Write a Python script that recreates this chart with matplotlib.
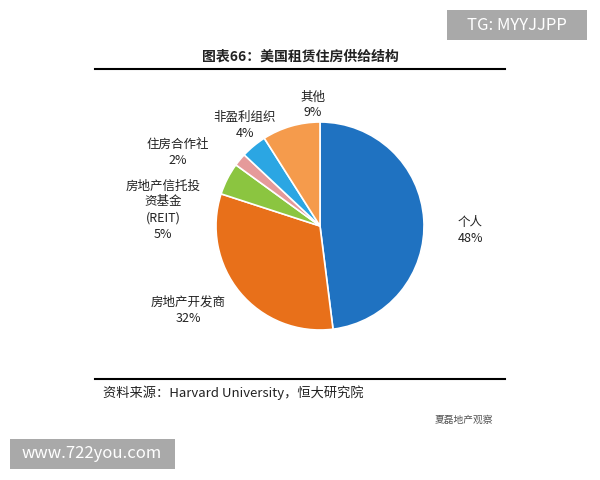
import matplotlib
matplotlib.use("Agg")
import matplotlib.pyplot as plt
from matplotlib.patches import FancyBboxPatch

plt.rcParams['font.family'] = ['Noto Sans CJK SC', 'DejaVu Sans']

labels = ["个人", "房地产开发商", "房地产信托投\n资基金\n(REIT)", "住房合作社", "非盈利组织", "其他"]
values = [48, 32, 5, 2, 4, 9]
colors = ["#1f72c1", "#e8701a", "#8bc540", "#e59a9a", "#2ba6e3", "#f59b4c"]

fig = plt.figure(figsize=(6, 4.8), dpi=100)
W, H = 600, 480
def fx(x): return x / W
def fy(y): return 1 - y / H

ax = fig.add_axes([fx(320 - 104), fy(226 + 104), 208 / W, 208 / H])
ax.pie(values, colors=colors, startangle=90, counterclock=False,
       wedgeprops=dict(edgecolor="white", linewidth=1.2))
ax.set_xlim(-1, 1)
ax.set_ylim(-1, 1)
ax.set_aspect('equal')
ax.axis('off')

lab_pos = [(458, 230, 'left'), (188, 310, 'center'), (163, 210, 'center'),
           (178, 152, 'center'), (245, 125, 'center'), (313, 105, 'center')]
for (x, y, ha), lab, v in zip(lab_pos, labels, values):
    fig.text(fx(x), fy(y), f"{lab}\n{v}%", ha=ha, va='center', fontsize=9,
             color="#222222", linespacing=1.3)

fig.text(fx(300), fy(57), "图表66：美国租赁住房供给结构", ha='center', va='center',
         fontsize=10, fontweight='bold', color="#222222")
fig.add_artist(plt.Line2D([fx(95), fx(505)], [fy(69), fy(69)], color='black', lw=1.5))
fig.add_artist(plt.Line2D([fx(95), fx(505)], [fy(379), fy(379)], color='black', lw=1.5))
fig.text(fx(103), fy(393), "资料来源：Harvard University，恒大研究院", ha='left', va='center',
         fontsize=9.5, style='italic', color="#222222")
fig.text(fx(435), fy(420), "夏磊地产观察", ha='left', va='center', fontsize=7, color="#555555")

fig.add_artist(FancyBboxPatch((fx(447), fy(40)), 140 / W, 30 / H, boxstyle="square,pad=0",
                              facecolor="#a9a9a9", edgecolor='none', transform=fig.transFigure))
fig.text(fx(517), fy(25), "TG: MYYJJPP", ha='center', va='center', fontsize=12, color="white")
fig.add_artist(FancyBboxPatch((fx(10), fy(469)), 165 / W, 30 / H, boxstyle="square,pad=0",
                              facecolor="#a9a9a9", edgecolor='none', transform=fig.transFigure))
fig.text(fx(92), fy(454), "www.722you.com", ha='center', va='center', fontsize=12, color="white")

fig.savefig("out.png", dpi=100, facecolor="white")
